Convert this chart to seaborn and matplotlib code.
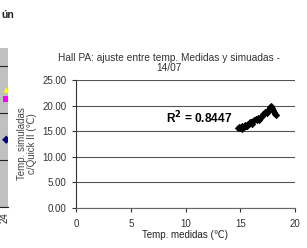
import matplotlib
matplotlib.use("Agg")
import matplotlib.pyplot as plt
import pandas as pd
import seaborn as sns

sns.set_style("white")
plt.rcParams['font.family'] = ['Liberation Sans', 'DejaVu Sans']

# main chart: measured vs simulated temperatures (Hall PA, 14/07)
t_medidas = [14.8, 14.9, 15.0, 15.1, 15.2, 15.3, 15.4, 15.5, 15.6, 15.7,
             15.8, 15.9, 16.0, 16.1, 16.2, 16.3, 16.4, 16.5, 16.6, 16.7,
             16.8, 16.9, 17.0, 17.1, 17.2, 17.3, 17.4, 17.5, 17.6, 17.7,
             17.8, 17.9, 18.0, 18.1, 18.2, 18.3, 15.2, 15.6, 16.1, 16.7]
t_simuladas = [15.6, 15.8, 15.6, 15.9, 16.0, 15.9, 16.2, 16.1, 16.3, 16.5,
               16.4, 16.7, 16.8, 16.7, 17.0, 17.1, 17.3, 17.1, 17.5, 17.4,
               17.6, 17.8, 17.9, 18.3, 18.4, 18.7, 18.6, 19.0, 19.4, 19.8,
               20.0, 19.6, 19.2, 18.8, 18.4, 18.1, 15.5, 16.0, 16.5, 17.2]
r2_label = "0.8447"

# partial chart on the left edge (only its last column is visible)
left_x = [24.3, 24.3, 24.3]
left_y = [2.49, 2.30, 1.43]
left_serie = ["a", "b", "c"]

df = pd.DataFrame({"x": t_medidas, "y": t_simuladas})
dl = pd.DataFrame({"x": left_x, "y": left_y, "s": left_serie})

W, H = 307, 248
fig = plt.figure(figsize=(W / 100, H / 100), dpi=100)
fig.patch.set_facecolor("white")

# ---- left partial chart
axl = fig.add_axes([-100 / W, 1 - 207 / H, 108 / W, 159 / H])
axl.set_facecolor("#c0c0c0")
sns.scatterplot(data=dl, x="x", y="y", hue="s", style="s",
                palette={"a": "#ffff00", "b": "#ff00ff", "c": "#000080"},
                markers={"a": "^", "b": "s", "c": "D"},
                s=18, linewidth=0, legend=False, ax=axl)
axl.set_xlim(0, 24.7)
axl.set_ylim(0, 3.38)
axl.set_yticks([0, 1, 2, 3])
axl.set_yticklabels([])
axl.set_xticks([24])
axl.set_xticklabels(["24"], rotation=90, fontsize=7, color="#222")
axl.tick_params(axis="x", length=0, pad=4)
axl.tick_params(axis="y", length=0)
axl.grid(axis="y", color="#222", linewidth=0.8)
for s in axl.spines.values():
    s.set_visible(False)
axl.spines["bottom"].set_visible(True)
axl.spines["bottom"].set_color("#222")
axl.set_xlabel("")
axl.set_ylabel("")
fig.text(1 / W, 1 - 15 / H, "ún", fontsize=7.5, fontweight="bold",
         va="center", ha="left", color="#222")

# ---- main chart
ax = fig.add_axes([76 / W, 1 - 208 / H, 219 / W, 128 / H])
sns.scatterplot(data=df, x="x", y="y", marker="D", color="black",
                s=14, linewidth=0, ax=ax)
ax.set_xlim(0, 20)
ax.set_ylim(0, 25)
ax.set_xticks([0, 5, 10, 15, 20])
ax.set_yticks([0, 5, 10, 15, 20, 25])
ax.set_yticklabels([f"{v:.2f}" for v in ax.get_yticks()])
ax.grid(axis="y", color="#555", linewidth=0.8)
ax.set_axisbelow(True)
for s in ["top", "right"]:
    ax.spines[s].set_visible(False)
ax.spines["left"].set_color("#333")
ax.spines["bottom"].set_color("#666")
ax.spines["left"].set_linewidth(0.8)
ax.spines["bottom"].set_linewidth(0.8)
ax.tick_params(axis="both", direction="out", length=3, width=0.8,
               colors="#333", labelsize=7, pad=2)
ax.tick_params(axis="x", bottom=True, pad=5)
ax.tick_params(axis="y", left=True, pad=4)

ax.set_xlabel("Temp. medidas (℃)", fontsize=7, color="#222", labelpad=1)
ax.set_ylabel("Temp. simuladas\nc/Quick II (℃)", fontsize=7, color="#444",
              labelpad=4, linespacing=1.0)

fig.text(169 / W, 1 - 63 / H,
         "Hall PA: ajuste entre temp. Medidas y simuadas -\n14/07",
         fontsize=7.3, ha="center", va="center", color="#333",
         linespacing=1.1)

ax.text(8.2, 17.6, "R$^\\mathbf{2}$ = " + r2_label, fontsize=8.6,
        fontweight="bold", va="center", ha="left", color="black")

fig.savefig("out.png", dpi=100, facecolor="white")
